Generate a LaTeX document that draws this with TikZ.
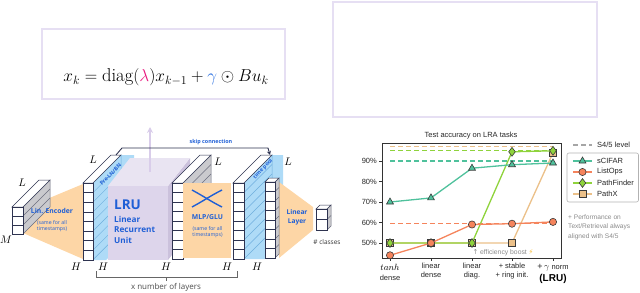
\documentclass[tikz,border=0pt]{standalone}
\usepackage{fontspec}
\setsansfont{Open Sans}
\newfontfamily\chartfont{Liberation Sans}
\newfontfamily\symfont{DejaVu Sans}
\usetikzlibrary{arrows.meta,plotmarks}
\definecolor{lblue}{HTML}{1F5FD6}
\definecolor{orng}{HTML}{FDD6A6}
\definecolor{lruF}{HTML}{DDD5EB}
\definecolor{lruT}{HTML}{E9E4F2}
\definecolor{lruS}{HTML}{CBC1DC}
\definecolor{slab}{HTML}{AEDBF7}
\definecolor{slabL}{HTML}{6FAEDD}
\definecolor{edge}{HTML}{2E3350}
\definecolor{sideg}{HTML}{CACACE}
\definecolor{sidel}{HTML}{6B6E7E}
\definecolor{frameC}{HTML}{E6DFF3}
\definecolor{cTeal}{HTML}{4FC19C}
\definecolor{cCoral}{HTML}{F5845C}
\definecolor{cLime}{HTML}{8FD33C}
\definecolor{cTan}{HTML}{EBC089}
\definecolor{mkedge}{HTML}{3A3A3A}
\definecolor{lambdaC}{HTML}{E8177D}
\definecolor{gammaC}{HTML}{2A6FE0}
\definecolor{arrowC}{HTML}{D9CDEA}
\definecolor{boltC}{HTML}{F7B82B}
\definecolor{noteC}{HTML}{8A8A8A}

\newcommand\drawblock[8]{%
  % #1 x, #2 ytop, #3 w, #4 cell h, #5 n, #6 depth, #7 side fill, #8 side line colour
  \pgfmathsetmacro\bh{#4*#5}%
  \pgfmathtruncatemacro\nm{#5-1}%
  \filldraw[fill=#7, draw=#8, line width=0.5] (#1+#3,#2) -- ++(#6,-#6) -- ++(0,\bh) -- ++(-#6,#6) -- cycle;
  \foreach \k in {1,...,\nm} {\draw[#8, line width=0.4] (#1+#3,#2+\k*#4) -- ++(#6,-#6);}
  \filldraw[fill=white, draw=edge, line width=0.5] (#1,#2) -- ++(#3,0) -- ++(#6,-#6) -- ++(-#3,0) -- cycle;
  \foreach \k in {0,...,\nm} {\filldraw[fill=white, draw=edge, line width=0.5] (#1,#2+\k*#4) rectangle ++(#3,#4);}
}

\tikzset{
  lbl/.style={text=lblue, font=\sffamily\bfseries\fontsize{6.8}{8}\selectfont, align=center, inner sep=0},
  tinylbl/.style={text=lblue, font=\sffamily\fontsize{5.2}{6.6}\selectfont, align=center, inner sep=0},
  slablbl/.style={text=lblue, font=\sffamily\bfseries\fontsize{5.3}{6}\selectfont, inner sep=0, rotate=46},
  dimlab/.style={font=\fontsize{11}{12}\selectfont, inner sep=0},
  ctext/.style={font=\chartfont\fontsize{7.5}{9}\selectfont, inner sep=0, text=black!85},
  notetext/.style={font=\chartfont\fontsize{6.6}{8}\selectfont, inner sep=0, text=noteC, anchor=west},
  s4dash/.style={line width=1.3, dash pattern=on 5pt off 3pt},
  series/.style={line width=1.3},
}

\begin{document}
\begin{tikzpicture}[x=1pt,y=-1pt]
\useasboundingbox (0,0) rectangle (640,292);

% ---------- top boxes ----------
\draw[frameC, line width=1.2] (42,29) rectangle (285,99);
\node (eq) at (166,77.5) {\fontsize{18.6}{21}\selectfont $x_k = \mathrm{diag}(\textcolor{lambdaC}{\lambda})x_{k-1} + \textcolor{gammaC}{\gamma}\odot B u_k$};
\draw[frameC, line width=1.2] (333,2) rectangle (597,117);

% ---------- left architecture ----------
% Lin. encoder trapezoid
\fill[orng] (23,209) -- (83,184) -- (83,259) -- (23,233) -- cycle;
\drawblock{12}{207}{11}{9}{3}{27}{sideg}{sidel}
% blue slab (Pre-LN/BN)
\fill[slab] (93,260) -- (106,260) -- (134,232) -- (134,155) -- (121,155) -- (93,183) -- cycle;
\drawblock{83}{183}{10}{9.6}{8}{28}{slab}{slabL}
% LRU cuboid
\fill[lruS] (168,186) -- (190,158) -- (190,232) -- (168,260) -- cycle;
\fill[lruT] (108,186) -- (168,186) -- (190,158) -- (130,158) -- cycle;
\fill[lruF] (108,186) rectangle (168,260);
\coordinate (lruTop) at (150,172);
\coordinate (upEnd) at (150,127);
\draw[arrowC, line width=1.6, -{Stealth[length=6pt,width=6pt]}] (lruTop) -- (upEnd);
\node[text=lblue, font=\sffamily\bfseries\fontsize{13.5}{15}\selectfont, anchor=base west, inner sep=0] (lru) at (114,209) {LRU};
\node[text=lblue, font=\sffamily\bfseries\fontsize{8.2}{10.4}\selectfont, anchor=north west, align=left, inner sep=0] (lrutxt) at (114,216) {Linear\\Recurrent\\Unit};
\node[slablbl] (preln) at (110.5,174.5) {Pre-LN/BN};
% block after LRU
\drawblock{172}{183}{11}{9.5}{8}{28}{sideg}{sidel}
% MLP/GLU
\fill[orng] (183,183) rectangle (231,258);
\draw[lblue, line width=1.4] (192,190) .. controls (205,197) and (210,201) .. (222,207);
\draw[lblue, line width=1.4] (192,207) .. controls (205,200) and (210,196) .. (222,190);
\node[lbl] (mlp) at (207.5,217) {MLP/GLU};
\node[tinylbl] (mlpsub) at (207.5,232) {(same for all\\timestamps)};
% block before time pool
\fill[slab] (244,183) -- (272,155) -- (283,155) -- (283,240) -- (265,259) -- (244,259) -- cycle;
\drawblock{233}{183}{11}{9.5}{8}{28}{slab}{slabL}
\node[slablbl] (tpool) at (263,169) {time pool};
% linear layer trapezoid
\fill[orng] (279,182) -- (313,207) -- (313,230) -- (279,258) -- cycle;
% pooled block
\drawblock{265}{182}{10}{9.5}{8}{4}{sideg}{sidel}
% output block
\drawblock{316}{209}{11}{10.5}{2}{4}{sideg}{sidel}
% encoder text
\node[lbl] (enc) at (52,211) {Lin. Encoder};
\node[tinylbl] (encsub) at (52,226) {(same for all\\timestamps)};
\node[lbl, font=\sffamily\bfseries\fontsize{6.6}{9}\selectfont] (linl) at (297,217.5) {Linear\\Layer};
\node[font=\sffamily\fontsize{6.5}{8}\selectfont, inner sep=0, text=black!80] (cls) at (327,242) {\# classes};

% skip connection
\coordinate (skipA) at (116,155);
\coordinate (skipB) at (270,155);
\draw[edge, line width=0.9, -{Stealth[length=4pt,width=4pt]}] (skipA) -- ++(6,-7) -- ++(146,0) -- (skipB);
\node[text=lblue, font=\sffamily\bfseries\fontsize{5.4}{6}\selectfont, inner sep=0] (skiplbl) at (211,142.5) {skip connection};

% dimension labels
\node[dimlab] (L1) at (22,183) {$L$};
\node[dimlab] (M1) at (6,240) {$M$};
\node[dimlab] (L2) at (93,160) {$L$};
\node[dimlab] (L3) at (218,162) {$L$};
\node[dimlab] (L4) at (288,162) {$L$};
\node[dimlab] (H1) at (76,267) {$H$};
\node[dimlab] (H2) at (103,267) {$H$};
\node[dimlab] (H3) at (166,267) {$H$};
\node[dimlab] (H4) at (227,267) {$H$};
\node[dimlab] (H5) at (257,267) {$H$};

% bracket
\draw[black!60, line width=1] (96,271) -- (96,277) -- (237,277) -- (237,271);
\draw[black!60, line width=1] (166,277) -- (166,281);
\node[font=\sffamily\fontsize{8}{9}\selectfont, text=black!70, inner sep=0] (layers) at (166,287) {x number of layers};

% ---------- chart ----------
\node[ctext] (title) at (471,136) {Test accuracy on LRA tasks};
\draw[black!80, line width=0.8] (382,143) rectangle (561,258);
\foreach \v/\y in {90/161,80/181.5,70/202,60/222.5,50/243} {
  \draw[black!80, line width=0.6] (379,\y) -- (382,\y);
  \node[ctext, anchor=east] at (377,\y) {\v\%};
}
\foreach \x in {390,431,472,512,553} {\draw[black!80, line width=0.6] (\x,258) -- (\x,261);}
% S4/5 levels
\draw[cTan, s4dash] (390,146.6) -- (553,146.6);
\draw[cLime, s4dash] (390,150.6) -- (553,150.6);
\draw[cTeal, s4dash] (390,161) -- (553,161);
\draw[cCoral, s4dash] (390,223.3) -- (553,223.3);
% series
\draw[cTan, series] plot[mark=square*, mark size=3.4, mark options={fill=cTan, draw=mkedge, line width=0.6, solid}] coordinates {(390,243) (431,243) (472,243) (512,243) (553,152.8)};
\draw[cLime, series] plot[mark=diamond*, mark size=4.4, mark options={fill=cLime, draw=mkedge, line width=0.6, solid}] coordinates {(390,243) (431,243) (472,243) (512,151.8) (553,150.8)};
\draw[cCoral, series] plot[mark=*, mark size=3.6, mark options={fill=cCoral, draw=mkedge, line width=0.6, solid}] coordinates {(390,255.3) (431,243) (472,224.5) (512,223.7) (553,221.9)};
\draw[cTeal, series] plot[mark=triangle*, mark size=4, mark options={fill=cTeal, draw=mkedge, line width=0.6, solid}] coordinates {(390,202) (431,197.9) (472,168.2) (512,164.7) (553,163)};
\node[font=\chartfont\fontsize{6.8}{8}\selectfont, text=noteC, inner sep=0] (boost) at (503,253) {{\symfont ↑} efficiency boost {\symfont\color{boltC}⚡}};
% x labels
\node[font=\fontsize{9.5}{10}\selectfont, inner sep=0, anchor=base] (xl1a) at (390,270) {$tanh$};
\node[ctext, anchor=base] (xl1b) at (390,280.5) {dense};
\node[ctext, align=center, anchor=north] (xl2) at (431,263) {linear\\dense};
\node[ctext, align=center, anchor=north] (xl3) at (472,263) {linear\\diag.};
\node[ctext, align=center, anchor=north] (xl4) at (512,263) {+ stable\\+ ring init.};
\node[ctext, anchor=base] (xl5) at (553,269.5) {{\fontsize{9}{10}\selectfont+\,$\gamma$} norm};
\node[font=\chartfont\bfseries\fontsize{10}{11}\selectfont, inner sep=0] (xl5b) at (553,279) {(LRU)};
% legend
\draw[black!35, s4dash] (573,145) -- (592,145);
\node[ctext, anchor=west] (s4lbl) at (597,145) {S4/5 level};
\draw[black!30, line width=0.6, rounded corners=2] (567,153) rectangle (638.5,202);
\draw[cTeal, series] (573,161) -- (592,161);
\path plot[mark=triangle*, mark size=4, mark options={fill=cTeal, draw=mkedge, line width=0.6}] coordinates {(582.5,161)};
\node[ctext, anchor=west] (lg1) at (597,161) {sCIFAR};
\draw[cCoral, series] (573,172) -- (592,172);
\path plot[mark=*, mark size=3.6, mark options={fill=cCoral, draw=mkedge, line width=0.6}] coordinates {(582.5,172)};
\node[ctext, anchor=west] (lg2) at (597,172) {ListOps};
\draw[cLime, series] (573,183) -- (592,183);
\path plot[mark=diamond*, mark size=4.4, mark options={fill=cLime, draw=mkedge, line width=0.6}] coordinates {(582.5,183)};
\node[ctext, anchor=west] (lg3) at (597,183) {PathFinder};
\draw[cTan, series] (573,194) -- (592,194);
\path plot[mark=square*, mark size=3.4, mark options={fill=cTan, draw=mkedge, line width=0.6}] coordinates {(582.5,194)};
\node[ctext, anchor=west] (lg4) at (597,194) {PathX};
% note
\node[notetext] (n1) at (568,217) {+ Performance on};
\node[notetext] (n2) at (568,227) {Text/Retrieval always};
\node[notetext] (n3) at (568,237) {aligned with S4/5};
\end{tikzpicture}
\end{document}
